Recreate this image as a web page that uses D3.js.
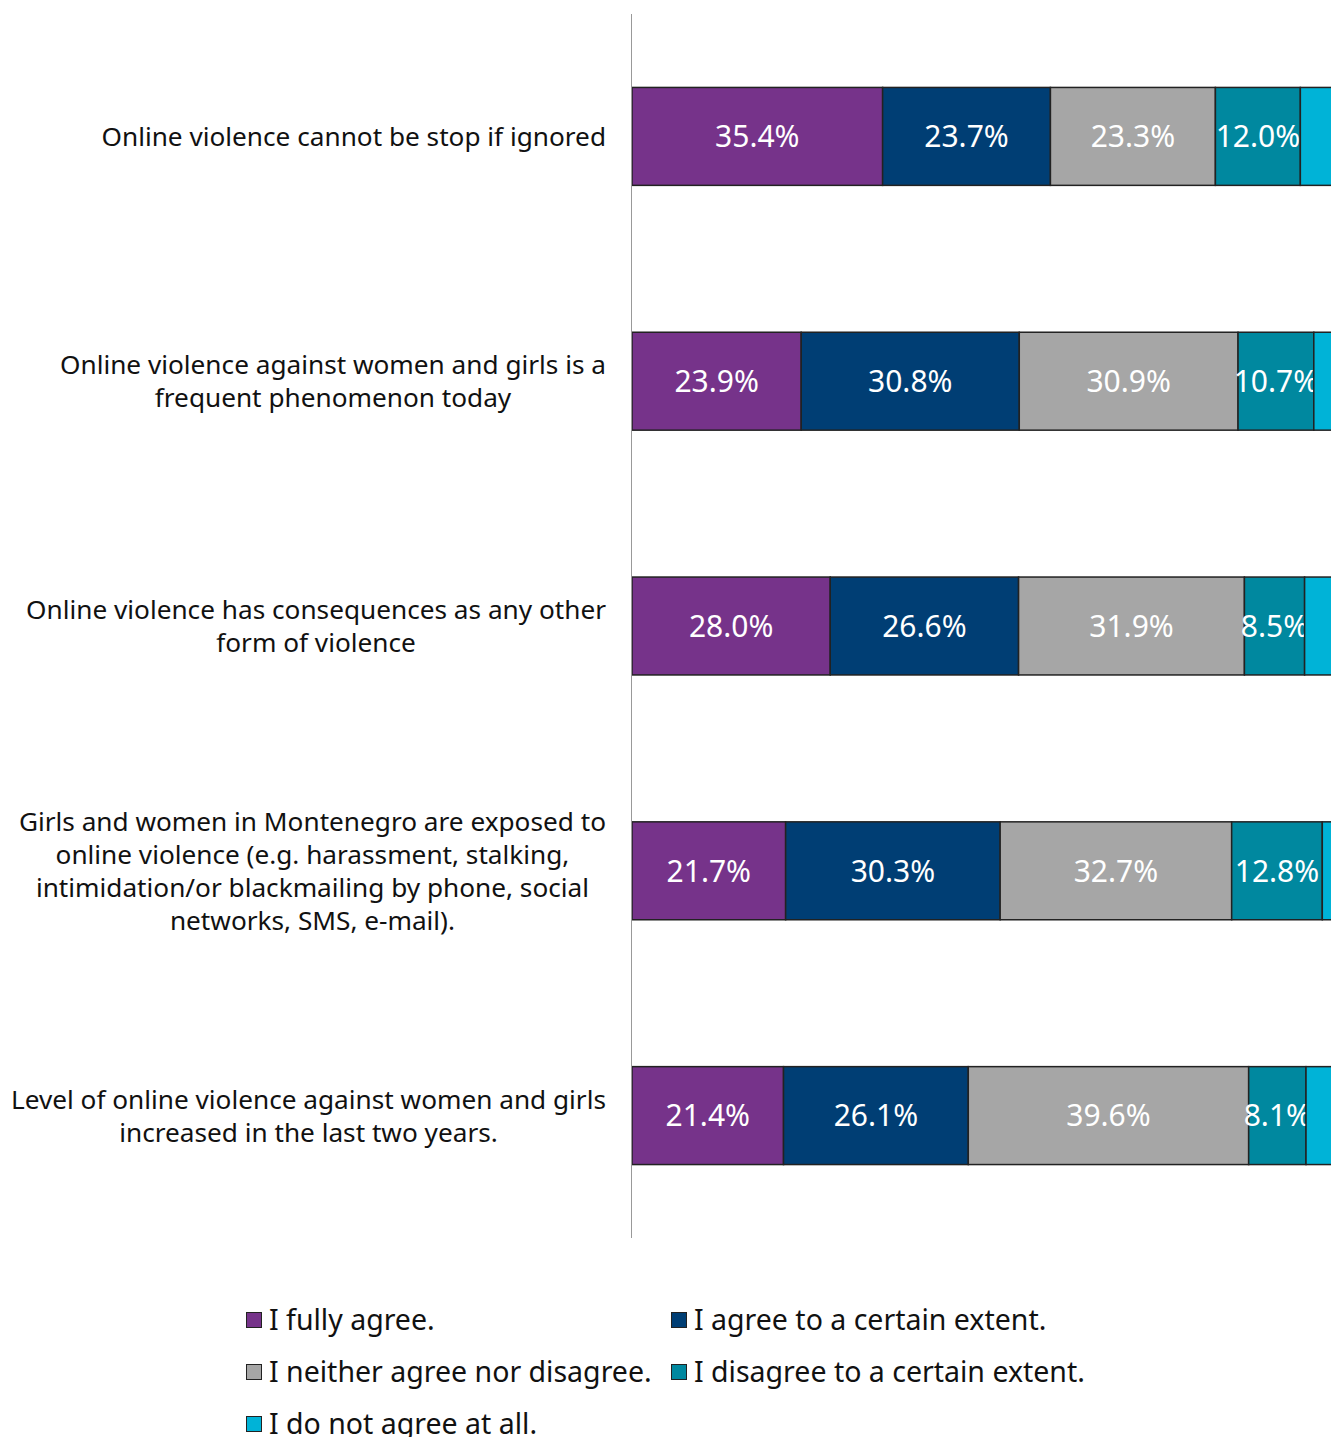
<!DOCTYPE html>
<html>
<head>
<meta charset="utf-8">
<script src="https://cdn.jsdelivr.net/npm/d3@7"></script>
<style>
  body { margin: 0; background: #fff; }
  svg { display: block; font-family: "Noto Sans", Roboto, sans-serif; }
</style>
</head>
<body>
<svg id="chart" width="1331" height="1437"></svg>
<script>
// statements, each wrapped as in the original
var categories = [
  ["Online violence cannot be stop if ignored"],
  ["Online violence against women and girls is a", "frequent phenomenon today"],
  ["Online violence has consequences as any other", "form of violence"],
  ["Girls and women in Montenegro are exposed to", "online violence (e.g. harassment, stalking,", "intimidation/or blackmailing by phone, social", "networks, SMS, e-mail)."],
  ["Level of online violence against women and girls", "increased in the last two years."]
];

var seriesNames = ["I fully agree.", "I agree to a certain extent.", "I neither agree nor disagree.", "I disagree to a certain extent.", "I do not agree at all."];

var fullyAgree     = [35.4, 23.9, 28.0, 21.7, 21.4];
var agreeExtent    = [23.7, 30.8, 26.6, 30.3, 26.1];
var neither        = [23.3, 30.9, 31.9, 32.7, 39.6];
var disagreeExtent = [12.0, 10.7,  8.5, 12.8,  8.1];
var notAtAll       = [ 5.6,  3.7,  5.0,  2.5,  4.8];

var colors = ["#76338a", "#003e74", "#a6a6a6", "#00889f", "#00b3d7"];

var svg = d3.select("#chart");

var x0 = 632,
    pxPerPct = 7.08;

var x = d3.scaleLinear()
    .domain([0, 100])
    .range([x0, x0 + 100 * pxPerPct]);

var y = d3.scaleBand()
    .domain(d3.range(categories.length))
    .range([14, 1238])
    .paddingInner(0.6)
    .paddingOuter(0.3);

// build rows for the stack
var rows = categories.map(function(c, i) {
  return {
    idx: i,
    s0: fullyAgree[i],
    s1: agreeExtent[i],
    s2: neither[i],
    s3: disagreeExtent[i],
    s4: notAtAll[i]
  };
});
var keys = ["s0", "s1", "s2", "s3", "s4"];
var stacked = d3.stack().keys(keys)(rows);

var layers = svg.selectAll("g.layer")
  .data(stacked)
  .enter().append("g")
    .attr("class", "layer")
    .attr("fill", function(d, i) { return colors[i]; });

layers.selectAll("rect")
  .data(function(d) { return d; })
  .enter().append("rect")
    .attr("x", function(d) { return x(d[0]); })
    .attr("y", function(d) { return y(d.data.idx); })
    .attr("width", function(d) { return x(d[1]) - x(d[0]); })
    .attr("height", y.bandwidth())
    .attr("stroke", "#222")
    .attr("stroke-width", 1.5);

// value labels (last series runs off the edge, so no label there)
layers.filter(function(d, i) { return i < 4; })
  .selectAll("text")
  .data(function(d) { return d; })
  .enter().append("text")
    .attr("x", function(d) { return (x(d[0]) + x(d[1])) / 2; })
    .attr("y", function(d) { return y(d.data.idx) + y.bandwidth() / 2; })
    .attr("dy", "0.36em")
    .attr("text-anchor", "middle")
    .attr("fill", "#fff")
    .style("font-size", "30px")
    .text(function(d) { return (d[1] - d[0]).toFixed(1) + "%"; });

// axis line
svg.append("line")
  .attr("x1", x0 - 0.5).attr("x2", x0 - 0.5)
  .attr("y1", y.range()[0]).attr("y2", y.range()[1])
  .attr("stroke", "#999")
  .attr("stroke-width", 1);

// category labels: block right aligned, lines centred in the block
var lineH = 33,
    labelRight = 606;
categories.forEach(function(lines, i) {
  var g = svg.append("g");
  var cy = y(i) + y.bandwidth() / 2;
  var texts = lines.map(function(l, j) {
    return g.append("text")
      .attr("y", cy + (j - (lines.length - 1) / 2) * lineH)
      .attr("dy", "0.36em")
      .attr("text-anchor", "middle")
      .attr("fill", "#111")
      .style("font-size", "26.2px")
      .text(l);
  });
  var maxW = d3.max(texts, function(t) { return t.node().getComputedTextLength(); });
  texts.forEach(function(t) { t.attr("x", labelRight - maxW / 2); });
});

// legend
var legendX = [246, 671],
    legendY = 1320,
    legendStep = 52;
var legend = svg.selectAll("g.legend")
  .data(seriesNames)
  .enter().append("g")
    .attr("class", "legend")
    .attr("transform", function(d, i) {
      return "translate(" + legendX[i % 2] + "," + (legendY + Math.floor(i / 2) * legendStep) + ")";
    });

legend.append("rect")
  .attr("x", 0.5).attr("y", -7.5)
  .attr("width", 15).attr("height", 15)
  .attr("fill", function(d, i) { return colors[i]; })
  .attr("stroke", "#222")
  .attr("stroke-width", 1);

legend.append("text")
  .attr("x", 23)
  .attr("dy", "0.36em")
  .attr("fill", "#111")
  .style("font-size", "28.5px")
  .text(function(d) { return d; });
</script>
</body>
</html>
